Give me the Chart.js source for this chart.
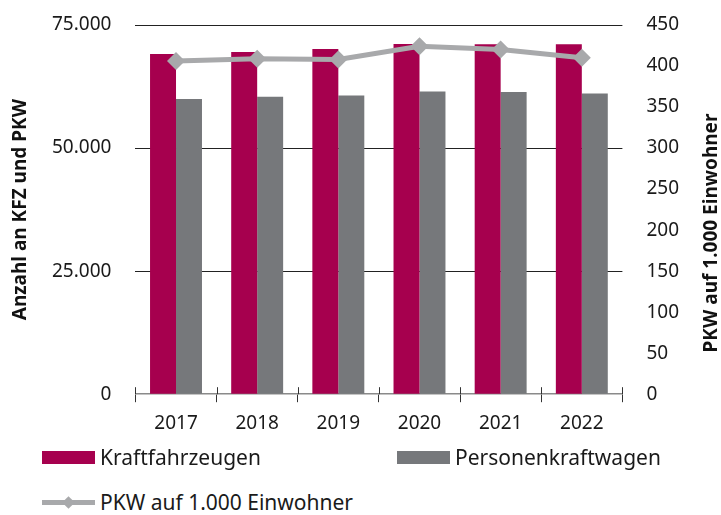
<!DOCTYPE html>
<html>
<head>
  <title>KFZ und PKW</title>
  <script src="https://cdn.jsdelivr.net/npm/chart.js"></script>
  <style>
    body { margin: 0; background: #fff; font-family: 'Noto Sans', sans-serif; }
    #wrap { position: relative; width: 721px; height: 515px; }
    #box { position: absolute; left: 0; top: 0; width: 721px; height: 445px; }
    .leg { position: absolute; font-size: 21px; color: #1a1a1a; line-height: 24px; white-space: nowrap; }
    .sw { position: absolute; width: 53px; height: 13px; }
    .ln { position: absolute; width: 53px; height: 5px; background: #a8a9ab; }
    .dm { position: absolute; width: 9px; height: 9px; background: #a8a9ab; transform: rotate(45deg); }
  </style>
</head>
<body>
<div id="wrap">
  <div id="box"><canvas id="myChart"></canvas></div>
  <div class="sw" style="left:42px;top:451px;background:#a6004e"></div>
  <div class="leg" id="l1" style="left:100px;top:445px"></div>
  <div class="sw" style="left:397px;top:451px;background:#76787b"></div>
  <div class="leg" id="l2" style="left:455px;top:445px"></div>
  <div class="ln" style="left:42px;top:500px"></div>
  <div class="dm" style="left:64px;top:498px"></div>
  <div class="leg" id="l3" style="left:100px;top:490px"></div>
</div>
<script>
  const years = ['2017', '2018', '2019', '2020', '2021', '2022'];
  const kfz = [69100, 69500, 70100, 71150, 71100, 71100];
  const pkw = [59950, 60400, 60700, 61500, 61400, 61100];
  const pkwJe1000 = [406, 409, 408, 424, 420, 410];
  const leftTicks = [0, 25000, 50000, 75000];
  const rightTicks = [0, 50, 100, 150, 200, 250, 300, 350, 400, 450];
  const names = ['Kraftfahrzeugen', 'Personenkraftwagen', 'PKW auf 1.000 Einwohner'];
  const rightTitle = 'PKW auf 1.000 Einwohner';

  document.getElementById('l1').textContent = names[0];
  document.getElementById('l2').textContent = names[1];
  document.getElementById('l3').textContent = names[2];

  const fmt = v => String(v).replace(/\B(?=(\d{3})+(?!\d))/g, '.');
  const tickFont = { family: 'Noto Sans', size: 19 };
  const titleFont = { family: 'Noto Sans', size: 19, weight: 'bold', lineHeight: 1 };

  // short marks above the x axis at category borders + right title read bottom-up
  const extras = {
    id: 'extras',
    afterDatasetsDraw(chart) {
      const x = chart.scales.x, c = chart.ctx;
      const n = years.length, step = x.width / n;
      c.save();
      c.strokeStyle = '#333';
      c.lineWidth = 1;
      for (let i = 0; i <= n; i++) {
        const px = Math.round(x.left + i * step) + 0.5;
        c.beginPath();
        c.moveTo(px, x.top - 7);
        c.lineTo(px, x.top);
        c.stroke();
      }
      c.restore();
    },
    afterDraw(chart) {
      const c = chart.ctx;
      c.save();
      c.translate(712, 233);
      c.rotate(-Math.PI / 2);
      c.font = 'bold 19px "Noto Sans"';
      c.fillStyle = '#111';
      c.textAlign = 'center';
      c.textBaseline = 'middle';
      c.fillText(rightTitle, 0, 0);
      c.restore();
    }
  };

  const chartConfig = {
    type: 'bar',
    data: {
      labels: years,
      datasets: [
        {
          type: 'line',
          label: names[2],
          data: pkwJe1000,
          yAxisID: 'y1',
          borderColor: '#a8a9ab',
          backgroundColor: '#a8a9ab',
          borderWidth: 5,
          pointStyle: 'rectRot',
          pointRadius: 9,
          pointBorderWidth: 0,
          pointBackgroundColor: '#a8a9ab',
          order: 0
        },
        {
          label: names[0],
          data: kfz,
          backgroundColor: '#a6004e',
          yAxisID: 'y',
          categoryPercentage: 0.64,
          barPercentage: 1.0,
          order: 1
        },
        {
          label: names[1],
          data: pkw,
          backgroundColor: '#76787b',
          yAxisID: 'y',
          categoryPercentage: 0.64,
          barPercentage: 1.0,
          order: 1
        }
      ]
    },
    options: {
      responsive: true,
      maintainAspectRatio: false,
      animation: false,
      layout: { padding: { left: 11, right: 38, top: 25, bottom: 0 } },
      plugins: { legend: { display: false }, tooltip: { enabled: false } },
      scales: {
        x: {
          grid: { offset: true, drawOnChartArea: false, tickLength: 8, color: '#333' },
          border: { color: '#8a8a8a', width: 1.5 },
          ticks: { font: tickFont, color: '#1a1a1a', padding: 10 }
        },
        y: {
          position: 'left',
          min: 0, max: 75000,
          afterBuildTicks: s => { s.ticks = leftTicks.map(v => ({ value: v })); },
          grid: {
            color: ctx => ctx.tick && ctx.tick.value === 0 ? 'transparent' : '#222',
            tickColor: 'transparent',
            tickLength: 20,
            lineWidth: 1
          },
          border: { display: false },
          ticks: { font: tickFont, color: '#1a1a1a', padding: 4, callback: v => fmt(v) },
          title: { display: true, text: 'Anzahl an KFZ und PKW', font: titleFont, color: '#111', padding: { top: 0, bottom: 18 } }
        },
        y1: {
          position: 'right',
          min: 0, max: 450,
          afterBuildTicks: s => { s.ticks = rightTicks.map(v => ({ value: v })); },
          grid: { drawOnChartArea: false, tickColor: 'transparent', tickLength: 20 },
          border: { display: false },
          ticks: { font: tickFont, color: '#1a1a1a', padding: 4 }
        }
      }
    },
    plugins: [extras]
  };
  const myChart = new Chart(document.getElementById('myChart'), chartConfig);
</script>
</body>
</html>
